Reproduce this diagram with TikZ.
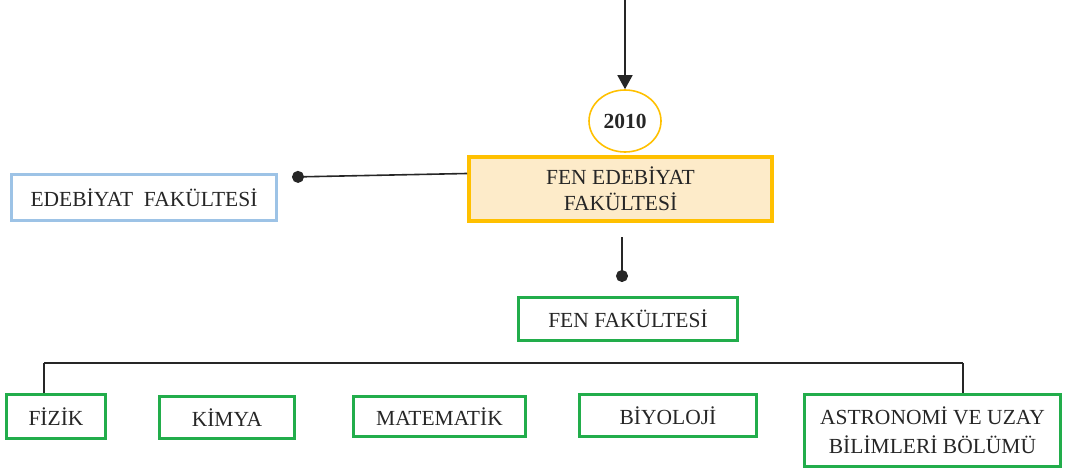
\documentclass[tikz,border=0pt]{standalone}
\usepackage{fontspec}
\setmainfont{Liberation Serif}
\newfontfamily\tnr{Liberation Serif}
\usetikzlibrary{arrows.meta,calc,shapes.geometric}
\definecolor{grn}{HTML}{22AD4B}
\definecolor{org}{HTML}{FFC000}
\definecolor{orgfill}{HTML}{FDEBC9}
\definecolor{blu}{HTML}{9DC3E6}
\definecolor{txt}{HTML}{262626}
\begin{document}
\begin{tikzpicture}[x=1pt,y=-1pt,
  box/.style={draw, rectangle, inner sep=0pt, align=center, text=txt,
    font=\tnr\fontsize{21.5}{26}\selectfont},
  greenbox/.style={box, draw=grn, line width=3.5pt},
  link/.style={line width=1.6pt, draw=black!85},
  dotlink/.style={link, -{Circle[length=12pt]}},
]
\useasboundingbox (0,0) rectangle (1065,473);

% nodes
\node[ellipse, draw=org, line width=1.6pt, minimum width=72pt, minimum height=62pt,
      inner sep=0pt, text=txt, font=\tnr\fontsize{21.5}{25}\selectfont\bfseries] (yr) at (625,121) {2010};
\node[box, draw=org, fill=orgfill, line width=3.5pt, minimum width=303pt, minimum height=64pt]
      (fe) at (620.5,189) {FEN EDEB\.IYAT\\FAK\"ULTES\.I};
\node[box, draw=blu, line width=2.5pt, minimum width=265pt, minimum height=46pt]
      (ed) at (144,197.5) {EDEB\.IYAT\ \ FAK\"ULTES\.I};
\node[greenbox, minimum width=219pt, minimum height=43pt] (ff) at (628,319) {FEN FAK\"ULTES\.I};
\node[greenbox, minimum width=99pt, minimum height=44pt] (fiz) at (56,416.5) {F\.IZ\.IK};
\node[greenbox, minimum width=135pt, minimum height=42pt] (kim) at (227,417.5) {K\.IMYA};
\node[greenbox, minimum width=172pt, minimum height=40pt] (mat) at (439.5,416.5) {MATEMAT\.IK};
\node[greenbox, minimum width=177pt, minimum height=42pt] (biy) at (668,415.5) {B\.IYOLOJ\.I};
\node[greenbox, minimum width=256pt, minimum height=72pt, font=\tnr\fontsize{21.5}{29}\selectfont]
      (ast) at (932.5,430.5) {ASTRONOM\.I VE UZAY\\B\.IL\.IMLER\.I B\"OL\"UM\"U};

% coordinates
\coordinate (top) at (625,0);
\coordinate (feL) at (467,173.5);
\coordinate (edDot) at (292,177);
\coordinate (feB) at (622,237);
\coordinate (ffDot) at (622,282);
\coordinate (busL) at (44,363);
\coordinate (busR) at (963,363);

% connectors
\draw[link, -{Triangle[length=14pt,width=15pt]}] (top) -- (yr.north);
\draw[dotlink] (feL) -- (edDot);
\draw[dotlink] (feB) -- (ffDot);
\draw[link] (busL) -- (busR);
\draw[link] ($(ff.south)+(-6,0)$) -- ($(ff.south)+(-6,0)$ |- busL);
\draw[link] (busL) -- ($(fiz.north)+(-12,0)$);
\draw[link] ($(kim.north)+(10,0)$ |- busL) -- ($(kim.north)+(10,0)$);
\draw[link] ($(mat.north)+(-2.5,0)$ |- busL) -- ($(mat.north)+(-2.5,0)$);
\draw[link] ($(biy.north)+(-10,0)$ |- busL) -- ($(biy.north)+(-10,0)$);
\draw[link] (busR) -- ($(ast.north)+(30.5,0)$);
\end{tikzpicture}
\end{document}
